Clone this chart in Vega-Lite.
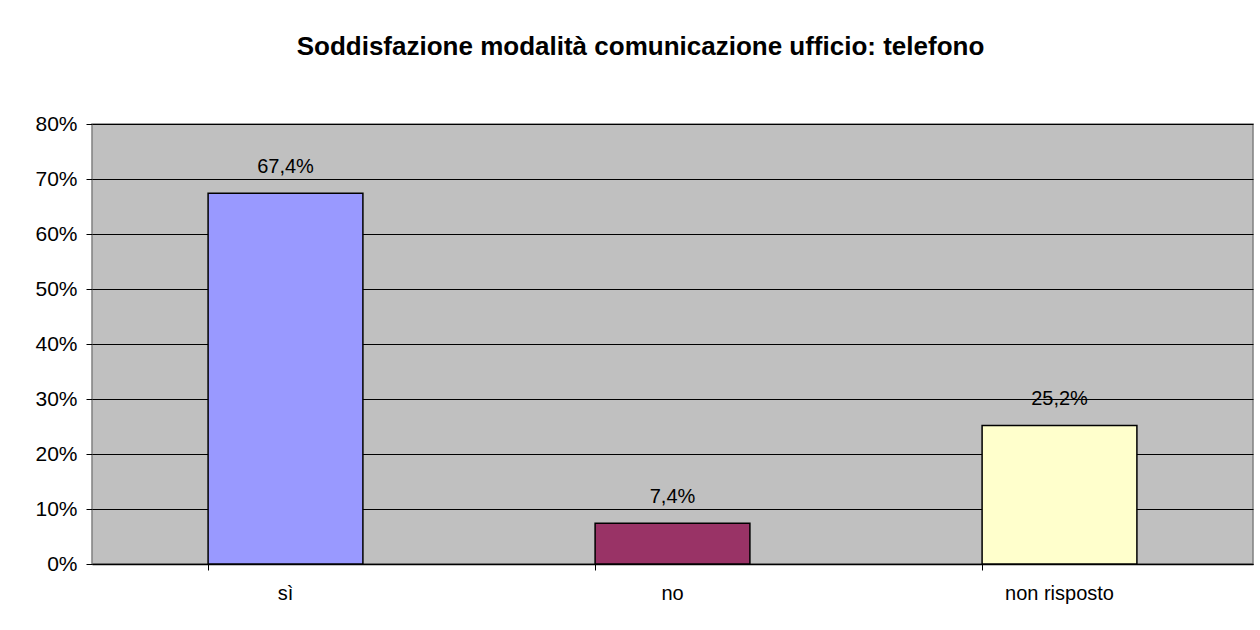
{
  "$schema": "https://vega.github.io/schema/vega-lite/v6.json",
  "autosize": {"type": "none"},
  "width": 1161,
  "height": 440,
  "padding": {"left": 92, "top": 124, "right": 7, "bottom": 66},
  "background": "white",
  "config": {
    "locale": {"number": {"decimal": ",", "thousands": ".", "grouping": [3], "currency": ["€", ""]}},
    "font": "Liberation Sans",
    "view": {"fill": "#C0C0C0", "stroke": "#808080", "strokeWidth": 1.5}
  },
  "title": {
    "text": "Soddisfazione modalità comunicazione ufficio: telefono",
    "font": "Liberation Sans",
    "fontSize": 26,
    "fontWeight": "bold",
    "color": "black",
    "anchor": "middle",
    "frame": "group",
    "dx": -32,
    "offset": 53
  },
  "data": {
    "values": [
      {"categoria": "sì", "valore": 0.674},
      {"categoria": "no", "valore": 0.074},
      {"categoria": "non risposto", "valore": 0.252}
    ]
  },
  "encoding": {
    "x": {
      "field": "categoria",
      "type": "nominal",
      "sort": null,
      "title": null,
      "scale": {"paddingInner": 0.6, "paddingOuter": 0.3},
      "axis": {
        "labelAngle": 0,
        "labelFont": "Liberation Sans",
        "labelFontSize": 20,
        "labelColor": "black",
        "labelPadding": 13,
        "domainColor": "black",
        "domainWidth": 1.5,
        "tickColor": "black",
        "tickSize": 6,
        "bandPosition": 0,
        "grid": false
      }
    },
    "y": {
      "field": "valore",
      "type": "quantitative",
      "title": null,
      "scale": {"domain": [0, 0.8], "nice": false},
      "axis": {
        "format": ".0%",
        "values": [0, 0.1, 0.2, 0.3, 0.4, 0.5, 0.6, 0.7, 0.8],
        "labelFont": "Liberation Sans",
        "labelFontSize": 21,
        "labelColor": "black",
        "labelPadding": 9,
        "domain": false,
        "tickColor": "black",
        "tickSize": 6,
        "grid": true,
        "gridColor": "black",
        "gridWidth": 1
      }
    }
  },
  "layer": [
    {
      "mark": {"type": "bar", "stroke": "black", "strokeWidth": 1.5},
      "encoding": {
        "color": {
          "field": "categoria",
          "type": "nominal",
          "sort": null,
          "legend": null,
          "scale": {"domain": ["sì", "no", "non risposto"], "range": ["#9999FF", "#993366", "#FFFFCC"]}
        }
      }
    },
    {
      "mark": {"type": "text", "baseline": "bottom", "dy": -16, "fontSize": 20, "font": "Liberation Sans", "color": "black"},
      "encoding": {
        "text": {"field": "valore", "type": "quantitative", "format": ".1%"}
      }
    }
  ]
}
